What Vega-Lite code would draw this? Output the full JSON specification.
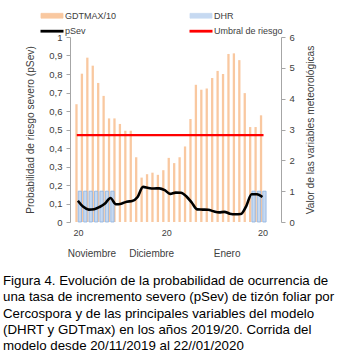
{
  "$schema": "https://vega.github.io/schema/vega-lite/v6.json",
  "width": 211,
  "height": 185,
  "autosize": {"type": "none"},
  "padding": {"left": 70, "top": 37, "right": 72, "bottom": 132},
  "background": "white",
  "config": {
    "view": {"stroke": null},
    "font": "Liberation Sans",
    "axis": {"grid": false, "labelFont": "Liberation Sans", "titleFont": "Liberation Sans", "labelColor": "#404040", "titleColor": "#404040", "domainColor": "#a6a6a6", "tickColor": "#a6a6a6", "titleFontWeight": "normal"}
  },
  "title": {
    "text": ["Figura 4. Evolución de la probabilidad de ocurrencia de", "una tasa de incremento severo (pSev) de tizón foliar por", "Cercospora y de las principales variables del modelo", "(DHRT y GDTmax) en los años 2019/20. Corrida del", "modelo desde 20/11/2019 al 22//01/2020"],
    "orient": "bottom", "anchor": "start", "frame": "group", "dx": -67, "offset": 16,
    "font": "Liberation Sans", "fontSize": 13.3, "fontWeight": "normal", "color": "#000000", "lineHeight": 16.3
  },
  "data": {"values": [
    {"k": 0, "gdt": 3.82, "dhr": 1, "psev": 0.115, "umbral": 0.47},
    {"k": 1, "gdt": 4.81, "dhr": 1, "psev": 0.082, "umbral": 0.47},
    {"k": 2, "gdt": 5.33, "dhr": 1, "psev": 0.067, "umbral": 0.47},
    {"k": 3, "gdt": 5.07, "dhr": 1, "psev": 0.069, "umbral": 0.47},
    {"k": 4, "gdt": 4.51, "dhr": 1, "psev": 0.081, "umbral": 0.47},
    {"k": 5, "gdt": 4.09, "dhr": 1, "psev": 0.100, "umbral": 0.47},
    {"k": 6, "gdt": 3.36, "dhr": 1, "psev": 0.130, "umbral": 0.47},
    {"k": 7, "gdt": 3.36, "dhr": 0, "psev": 0.096, "umbral": 0.47},
    {"k": 8, "gdt": 3.18, "dhr": 0, "psev": 0.099, "umbral": 0.47},
    {"k": 9, "gdt": 2.96, "dhr": 0, "psev": 0.110, "umbral": 0.47},
    {"k": 10, "gdt": 2.96, "dhr": 0, "psev": 0.113, "umbral": 0.47},
    {"k": 11, "gdt": 2.10, "dhr": 0, "psev": 0.135, "umbral": 0.47},
    {"k": 12, "gdt": 1.44, "dhr": 0, "psev": 0.190, "umbral": 0.47},
    {"k": 13, "gdt": 1.55, "dhr": 0, "psev": 0.184, "umbral": 0.47},
    {"k": 14, "gdt": 1.60, "dhr": 0, "psev": 0.181, "umbral": 0.47},
    {"k": 15, "gdt": 1.53, "dhr": 0, "psev": 0.182, "umbral": 0.47},
    {"k": 16, "gdt": 1.68, "dhr": 0, "psev": 0.172, "umbral": 0.47},
    {"k": 17, "gdt": 2.08, "dhr": 0, "psev": 0.152, "umbral": 0.47},
    {"k": 18, "gdt": 1.91, "dhr": 0, "psev": 0.159, "umbral": 0.47},
    {"k": 19, "gdt": 2.10, "dhr": 0, "psev": 0.158, "umbral": 0.47},
    {"k": 20, "gdt": 2.45, "dhr": 0, "psev": 0.138, "umbral": 0.47},
    {"k": 21, "gdt": 3.34, "dhr": 0, "psev": 0.104, "umbral": 0.47},
    {"k": 22, "gdt": 4.45, "dhr": 0, "psev": 0.068, "umbral": 0.47},
    {"k": 23, "gdt": 4.29, "dhr": 0, "psev": 0.067, "umbral": 0.47},
    {"k": 24, "gdt": 4.33, "dhr": 0, "psev": 0.066, "umbral": 0.47},
    {"k": 25, "gdt": 4.67, "dhr": 0, "psev": 0.058, "umbral": 0.47},
    {"k": 26, "gdt": 4.90, "dhr": 0, "psev": 0.052, "umbral": 0.47},
    {"k": 27, "gdt": 4.80, "dhr": 0, "psev": 0.055, "umbral": 0.47},
    {"k": 28, "gdt": 5.45, "dhr": 0, "psev": 0.045, "umbral": 0.47},
    {"k": 29, "gdt": 5.47, "dhr": 0, "psev": 0.042, "umbral": 0.47},
    {"k": 30, "gdt": 5.25, "dhr": 0, "psev": 0.043, "umbral": 0.47},
    {"k": 31, "gdt": 4.18, "dhr": 0, "psev": 0.085, "umbral": 0.47},
    {"k": 32, "gdt": 3.08, "dhr": 1, "psev": 0.150, "umbral": 0.47},
    {"k": 33, "gdt": 3.08, "dhr": 1, "psev": 0.150, "umbral": 0.47},
    {"k": 34, "gdt": 3.46, "dhr": 1, "psev": 0.135, "umbral": 0.47}
  ]},
  "resolve": {"scale": {"y": "independent"}, "axis": {"x": "independent", "y": "independent"}},
  "layer": [
    {
      "mark": {"type": "bar", "width": 2.3, "xOffset": -1.4},
      "encoding": {
        "x": {"field": "k", "type": "quantitative", "scale": {"domain": [-0.53, 36.5], "nice": false, "zero": false},
          "axis": {"orient": "bottom", "values": [0, 16.3, 34], "labelExpr": "'20'", "domain": false, "ticks": false, "labelPadding": 6, "labelFontSize": 9, "labelOverlap": false, "labelFlush": false, "title": null}},
        "y": {"field": "gdt", "type": "quantitative", "scale": {"domain": [0, 6], "nice": false},
          "axis": {"orient": "right", "values": [0, 1, 2, 3, 4, 5, 6], "format": "d", "labelFontSize": 9.5, "tickSize": 4, "labelPadding": 4, "title": "Valor de las variables meteorológicas", "titleFontSize": 10.2, "titleAngle": 270, "titleBaseline": "top", "titlePadding": 11}},
        "color": {"datum": "GDTMAX/10", "type": "nominal",
          "scale": {"domain": ["GDTMAX/10", "pSev", "DHR", "Umbral de riesgo"], "range": ["#f9c8a0", "#000000", "#c6d9f1", "#ff0000"]},
          "legend": {"orient": "none", "legendX": -22.5, "legendY": -26, "columns": 2, "title": null, "columnPadding": 67, "rowPadding": 3.7, "padding": 0,
            "labelFont": "Liberation Sans", "labelFontSize": 9, "labelColor": "#404040", "symbolSize": 100, "labelOffset": 8.4,
            "encode": {"symbols": {"update": {
              "shape": {"signal": "datum.value == 'pSev' || datum.value == 'Umbral de riesgo' ? 'M-2.3,0H2.3' : 'M-2.2,-0.48H2.2V0.48H-2.2Z'"},
              "fill": {"signal": "datum.value == 'GDTMAX/10' ? '#f9c8a0' : datum.value == 'DHR' ? '#dce6f4' : 'transparent'"},
              "stroke": {"signal": "datum.value == 'DHR' ? '#8db3e2' : datum.value == 'GDTMAX/10' ? '#f9c8a0' : datum.value == 'pSev' ? '#000000' : '#ff0000'"},
              "strokeWidth": {"signal": "datum.value == 'pSev' || datum.value == 'Umbral de riesgo' ? 2.8 : 0.8"},
              "opacity": {"value": 1}
            }}}}
        }
      }
    },
    {
      "transform": [{"filter": "datum.dhr > 0"}],
      "mark": {"type": "bar", "width": 3.3, "xOffset": 2, "stroke": "#8db3e2", "strokeWidth": 0.8},
      "encoding": {
        "x": {"field": "k", "type": "quantitative", "axis": null},
        "y": {"field": "dhr", "type": "quantitative", "scale": {"domain": [0, 6], "nice": false}, "axis": null},
        "color": {"datum": "DHR", "type": "nominal"}
      }
    },
    {
      "mark": {"type": "line", "strokeWidth": 2.2, "strokeCap": "square"},
      "encoding": {
        "x": {"field": "k", "type": "quantitative", "axis": null},
        "y": {"field": "umbral", "type": "quantitative", "scale": {"domain": [0, 1], "nice": false}, "axis": null},
        "color": {"datum": "Umbral de riesgo", "type": "nominal"}
      }
    },
    {
      "mark": {"type": "line", "strokeWidth": 2.6, "interpolate": "monotone"},
      "encoding": {
        "x": {"field": "k", "type": "quantitative",
          "axis": {"orient": "bottom", "values": [2.5, 13.5, 27.4], "labelExpr": "datum.value < 5 ? 'Noviembre' : datum.value < 20 ? 'Diciembre' : 'Enero'", "domain": false, "ticks": false, "labelPadding": 26, "labelFontSize": 10, "labelOverlap": false, "labelFlush": false, "title": null}},
        "y": {"field": "psev", "type": "quantitative", "scale": {"domain": [0, 1], "nice": false},
          "axis": {"orient": "left", "values": [0, 0.1, 0.2, 0.3, 0.4, 0.5, 0.6, 0.7, 0.8, 0.9, 1], "labelExpr": "replace(format(datum.value, '.1~f'), '.', ',')", "labelFontSize": 9.5, "tickSize": 4, "labelPadding": 4, "title": "Probabilidad de riesgo severo (pSev)", "titleFontSize": 10.2, "titlePadding": 13}},
        "color": {"datum": "pSev", "type": "nominal"}
      }
    }
  ]
}
